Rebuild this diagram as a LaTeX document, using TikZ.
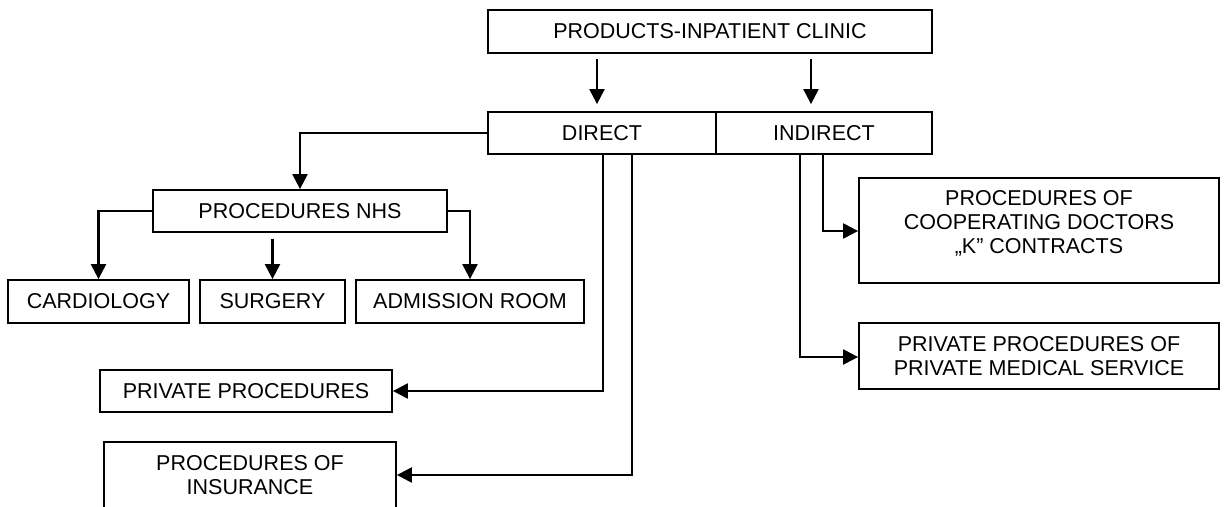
\documentclass[tikz,border=0pt]{standalone}
\usepackage{fontspec}
\setmainfont{Liberation Sans}
\usetikzlibrary{arrows.meta}
\begin{document}
\begin{tikzpicture}[x=1pt,y=-1pt,
  box/.style={draw=black, line width=1.8pt, inner sep=0pt, align=center,
    font=\fontsize{21.5}{24}\selectfont},
  lbl/.style={inner sep=0pt, align=center, font=\fontsize{21.5}{24}\selectfont},
  arr/.style={line width=2.2pt, -{Triangle[length=15pt,width=15pt]}},
  conn/.style={line width=2.2pt}]
\clip (0,0) rectangle (1226,506);
\fill[white] (0,0) rectangle (1226,506);
% boxes
\node[box, minimum width=444pt, minimum height=43pt] (top) at (710,31.5) {PRODUCTS-INPATIENT CLINIC};
\node[box, minimum width=228pt, minimum height=42pt] (direct) at (602,133) {DIRECT};
\node[box, minimum width=216pt, minimum height=42pt] (indirect) at (824,133) {INDIRECT};
\node[box, minimum width=294pt, minimum height=42pt] (nhs) at (300,211) {PROCEDURES NHS};
\node[box, minimum width=181pt, minimum height=43pt] (cardio) at (98.5,301.5) {CARDIOLOGY};
\node[box, minimum width=145pt, minimum height=43pt] (surgery) at (272.5,301.5) {SURGERY};
\node[box, minimum width=228pt, minimum height=43pt] (admission) at (470,301.5) {ADMISSION ROOM};
\node[box, minimum width=360pt, minimum height=105pt] (coop) at (1039,230.5) {};
\node[lbl] (cooptext) at (1039,223) {PROCEDURES OF\\COOPERATING DOCTORS\\\char"201E K\char"201D{} CONTRACTS};
\node[box, minimum width=360pt, minimum height=66pt] (pms) at (1039,356) {PRIVATE PROCEDURES OF\\PRIVATE MEDICAL SERVICE};
\node[box, minimum width=292pt, minimum height=42pt] (private) at (246,391) {PRIVATE PROCEDURES};
\node[box, minimum width=292pt, minimum height=90pt] (ins) at (250,487) {};
\node[lbl] (instext) at (250,475) {PROCEDURES OF\\INSURANCE};
% connectors
\draw[arr, shorten <=5pt, shorten >=7pt] (top.south -| 597,0) -- (direct.north -| 597,0);
\draw[arr, shorten <=5pt, shorten >=7pt] (top.south -| 811,0) -- (indirect.north -| 811,0);
\draw[arr] (direct.west) -| (nhs.north);
\draw[arr] (nhs.west) -| (cardio.north);
\draw[arr] (nhs.east) -| (admission.north);
\draw[arr, shorten <=6pt] (nhs.south -| surgery.north) -- (surgery.north);
\draw[arr] (direct.south -| 603,0) |- (private.east);
\draw[arr] (direct.south -| 632,0) |- (ins.east |- 0,475);
\draw[arr] (indirect.south -| 823,0) |- (coop.west |- 0,231);
\draw[arr] (indirect.south -| 800,0) |- (pms.west |- 0,357);
\end{tikzpicture}
\end{document}
